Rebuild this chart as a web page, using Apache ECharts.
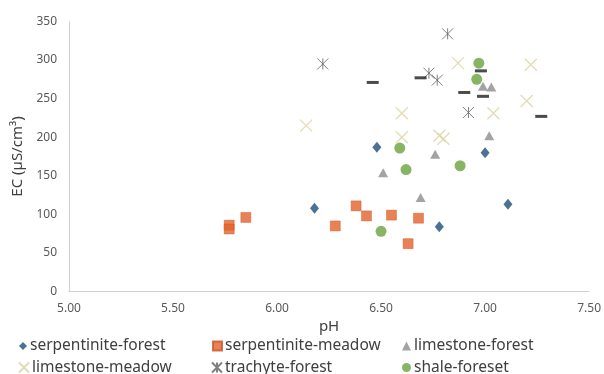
<!DOCTYPE html>
<html>
<head>
<meta charset="utf-8">
<script src="https://cdn.jsdelivr.net/npm/echarts@6/dist/echarts.min.js"></script>
<style>html,body{margin:0;padding:0;background:#fff}#c{width:604px;height:374px}</style>
</head>
<body>
<div id="c"></div>
<script>
// ---- data (pH, EC µS/cm³) ----
const serpForestPH = [6.48, 7.00, 6.18, 7.11, 6.78];
const serpForestEC = [187, 180, 108, 113, 84];
const serpMeadowPH = [5.77, 5.77, 5.85, 6.38, 6.43, 6.55, 6.68, 6.28, 6.63];
const serpMeadowEC = [86, 81, 96, 111, 98, 99, 95, 85, 62];
const limeForestPH = [6.99, 7.03, 7.02, 6.76, 6.51, 6.69];
const limeForestEC = [266, 265, 202, 178, 154, 122];
const limeMeadowPH = [6.87, 7.22, 7.20, 6.60, 7.04, 6.14, 6.60, 6.78, 6.80];
const limeMeadowEC = [296, 294, 247, 231, 231, 215, 200, 202, 198];
const trachForestPH = [6.82, 6.22, 6.73, 6.77, 6.92];
const trachForestEC = [334, 295, 283, 274, 232];
const shaleForestPH = [6.97, 6.96, 6.59, 6.62, 6.88, 6.50];
const shaleForestEC = [296, 275, 186, 158, 163, 78];
const dashPH = [6.98, 6.46, 6.69, 6.90, 6.99, 7.27];
const dashEC = [286, 271, 277, 258, 253, 227];
const xTicks = ['5.00', '5.50', '6.00', '6.50', '7.00', '7.50'];
const yTicks = [0, 50, 100, 150, 200, 250, 300, 350];
const seriesNames = ['serpentinite-forest', 'serpentinite-meadow', 'limestone-forest', 'limestone-meadow', 'trachyte-forest', 'shale-foreset'];

const zip = (a, b) => a.map((v, i) => [v, b[i]]);
const FONT = 'Noto Sans';
const XPATH = 'path://M0,0L10,10M10,0L0,10';
const STAR = 'path://M0,0L10,10M10,0L0,10M5,0L5,10';

const chart = echarts.init(document.getElementById('c'), null, {renderer: 'canvas'});

const series = [
  {name: seriesNames[0], type: 'scatter', symbol: 'diamond', symbolSize: [9, 11],
   itemStyle: {color: '#1f4e79'}, data: zip(serpForestPH, serpForestEC)},
  {name: seriesNames[1], type: 'scatter', symbol: 'rect', symbolSize: 10,
   itemStyle: {color: '#e2622a', borderColor: '#c9541f', borderWidth: 0.5}, data: zip(serpMeadowPH, serpMeadowEC)},
  {name: seriesNames[2], type: 'scatter', symbol: 'triangle', symbolSize: [10, 9],
   itemStyle: {color: '#8c8c8c'}, data: zip(limeForestPH, limeForestEC)},
  {name: seriesNames[3], type: 'scatter', symbol: XPATH, symbolSize: 12,
   itemStyle: {color: 'rgba(0,0,0,0)', borderColor: '#d9d3a3', borderWidth: 1.3}, data: zip(limeMeadowPH, limeMeadowEC)},
  {name: seriesNames[4], type: 'scatter', symbol: STAR, symbolSize: 11,
   itemStyle: {color: 'rgba(0,0,0,0)', borderColor: '#606060', borderWidth: 1}, data: zip(trachForestPH, trachForestEC)},
  {name: seriesNames[5], type: 'scatter', symbol: 'circle', symbolSize: 11,
   itemStyle: {color: '#6aa33f'}, data: zip(shaleForestPH, shaleForestEC)},
  {name: 'dash', type: 'scatter', symbol: 'rect', symbolSize: [12, 3],
   itemStyle: {color: '#1e1e1e'}, data: zip(dashPH, dashEC)}
];

const legendPos = [
  [19, 338, 8], [212, 338, 9], [402, 338, 9],
  [18, 359.5, 10], [211, 359.5, 10], [402, 359.5, 9]
];
const legends = seriesNames.map((n, i) => ({
  data: [n], left: legendPos[i][0], top: legendPos[i][1],
  itemWidth: legendPos[i][2], itemHeight: legendPos[i][2], itemGap: 0, padding: 0,
  selectedMode: false,
  textStyle: {fontFamily: FONT, fontSize: 15.5, color: '#404040', padding: [0, 0, 0, -2]}
}));

chart.setOption({
  animation: false,
  backgroundColor: '#ffffff',
  grid: {left: 69, right: 9, top: 21.5, bottom: 82.5, containLabel: false},
  legend: legends,
  xAxis: {
    type: 'value', min: 5, max: 7.5, interval: 0.5,
    name: 'pH', nameLocation: 'middle', nameGap: 24,
    nameTextStyle: {fontFamily: FONT, fontSize: 15, color: '#404040'},
    axisLine: {show: true, lineStyle: {color: '#d0d0d0', width: 1}},
    axisTick: {show: false},
    splitLine: {show: false},
    axisLabel: {fontFamily: FONT, fontSize: 12, color: '#595959', margin: 11,
      formatter: v => xTicks[Math.round((v - 5) / 0.5)] || v.toFixed(2)}
  },
  yAxis: {
    type: 'value', min: 0, max: 350, interval: 50,
    name: 'EC (µS/cm³)', nameLocation: 'middle', nameGap: 40,
    nameTextStyle: {fontFamily: FONT, fontSize: 15, color: '#404040'},
    axisLine: {show: true, lineStyle: {color: '#d0d0d0', width: 1}},
    axisTick: {show: false},
    splitLine: {show: false},
    axisLabel: {fontFamily: FONT, fontSize: 12, color: '#595959', margin: 12,
      formatter: v => String(yTicks[Math.round(v / 50)])}
  },
  series: series
});
</script>
</body>
</html>
